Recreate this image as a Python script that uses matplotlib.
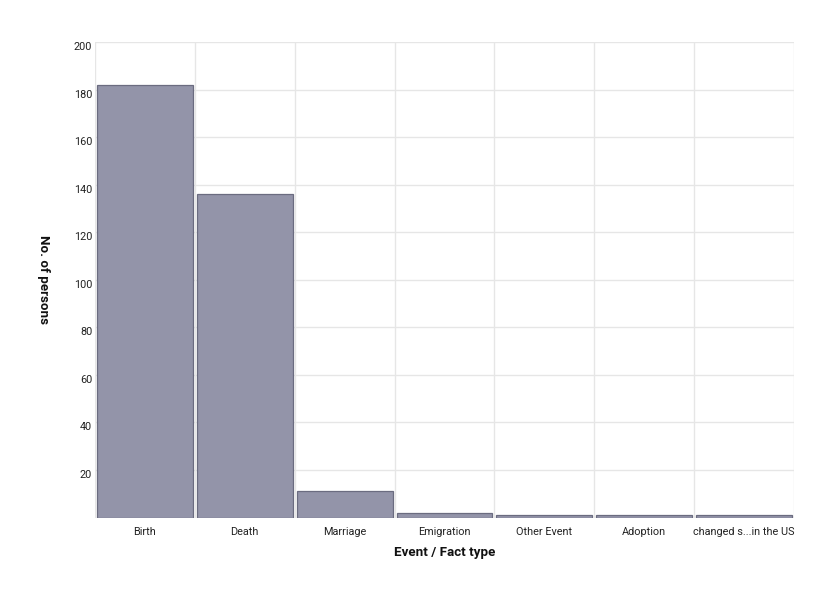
import matplotlib
matplotlib.use("Agg")
import matplotlib.pyplot as plt
from matplotlib.transforms import ScaledTranslation

categories = ["Birth", "Death", "Marriage", "Emigration", "Other Event", "Adoption", "changed s...in the US"]
counts = [182, 136, 11, 2, 1, 1, 1]
yticks = [20, 40, 60, 80, 100, 120, 140, 160, 180, 200]

plt.rcParams['font.family'] = ['Roboto', 'DejaVu Sans']

fig = plt.figure(figsize=(8.34, 5.94), dpi=100)
ax = fig.add_axes([95/834, 1-517.5/594, (794-95)/834, (517.5-42)/594])

x = list(range(len(categories)))
ax.bar(x, counts, width=0.96, color="#9394a9", edgecolor="#6b6c80", linewidth=0.9, zorder=3)

ax.set_xlim(-0.5, len(categories)-0.5)
ax.set_ylim(0, 200)

for v in yticks:
    ax.axhline(v, color="#e6e6e6", lw=1, zorder=1)
for b in range(len(categories)+1):
    ax.axvline(b-0.5, color="#e6e6e6", lw=1, zorder=1)

ax.set_xticks(x)
ax.set_xticklabels(categories, fontsize=7.8, color="#222222")
ax.set_yticks(yticks)
ax.set_yticklabels([str(v) for v in yticks], fontsize=7.8, color="#222222")
ax.tick_params(axis='both', length=0)
ax.tick_params(axis='x', pad=7)
ax.tick_params(axis='y', pad=2)
for lab in ax.get_yticklabels():
    lab.set_transform(lab.get_transform() + ScaledTranslation(0, -4/100, fig.dpi_scale_trans))

for s in ax.spines.values():
    s.set_visible(False)

ax.set_xlabel("Event / Fact type", fontsize=9.6, fontweight='bold', color="#111111", labelpad=6)
ax.set_ylabel("No. of persons", fontsize=9.6, fontweight='bold', color="#111111", rotation=-90, labelpad=22, va='center')

fig.savefig("out.png", dpi=100)
